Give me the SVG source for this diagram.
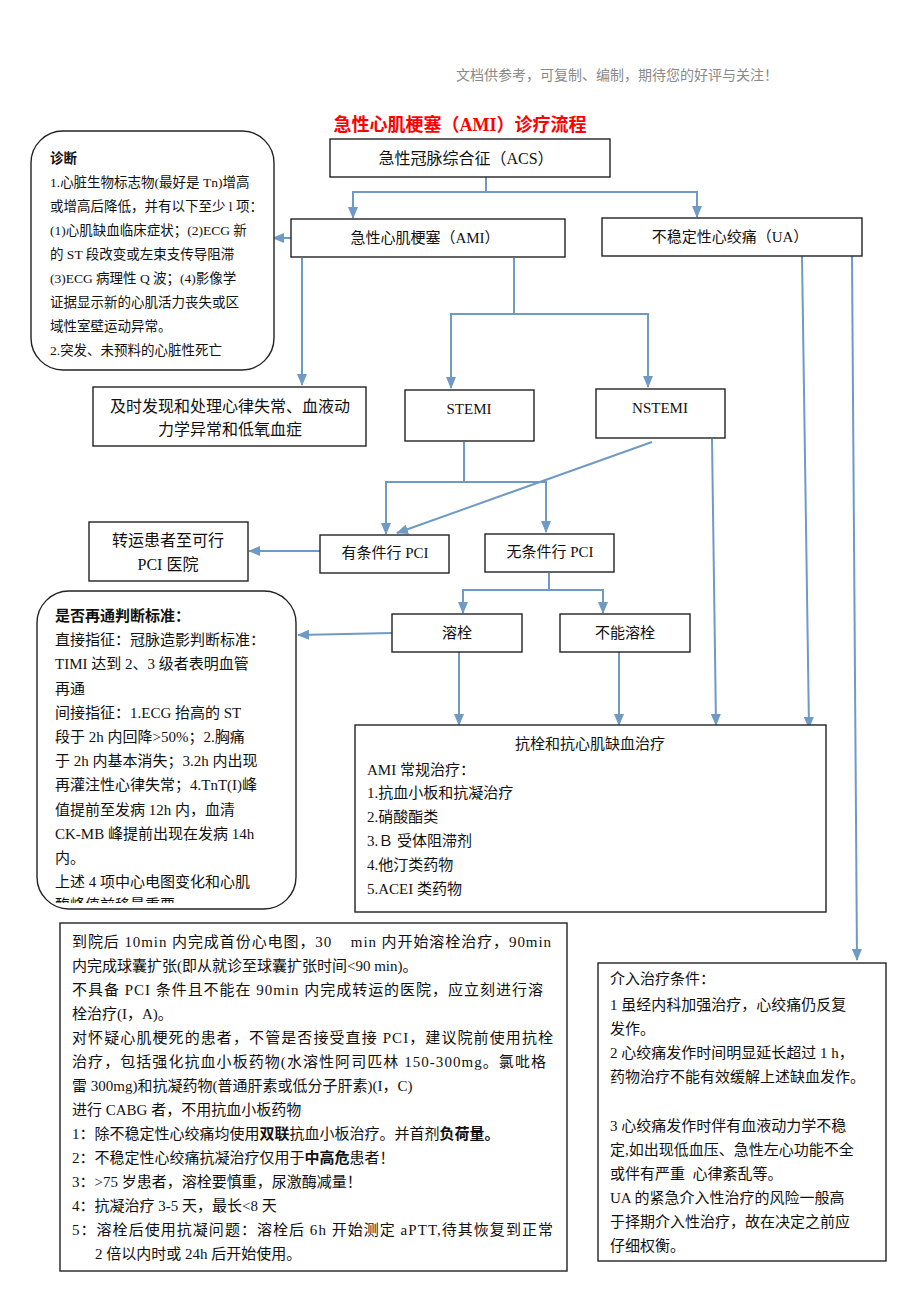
<svg xmlns="http://www.w3.org/2000/svg" width="920" height="1302" viewBox="0 0 920 1302">
<style>
text{font-family:"Liberation Serif","Noto Sans CJK SC",serif;fill:#111;}
.box{fill:#fff;stroke:#222;stroke-width:1.4;}
.rbox{fill:#fff;stroke:#222;stroke-width:1.4;}
.c{text-anchor:middle;}
.f16{font-size:16px;}
.f15{font-size:15px;}
.f13{font-size:13.5px;}
.conn path{fill:none;stroke:#6f9ac6;stroke-width:2;}
.b{font-weight:bold;font-family:"Noto Sans CJK SC","Liberation Sans",sans-serif;}
</style>
<defs>
<marker id="ah" viewBox="0 0 12 10" refX="11" refY="5" markerWidth="12" markerHeight="10" markerUnits="userSpaceOnUse" orient="auto">
<path d="M0,0 L12,5 L0,10 z" fill="#6f9ac6"/>
</marker>
<clipPath id="recanClip"><rect x="37" y="591" width="259" height="312"/></clipPath>
</defs>
<rect width="920" height="1302" fill="#fff"/>

<text x="617" y="80" class="c" style="font-size:14px;fill:#8a8a8a">文档供参考，可复制、编制，期待您的好评与关注！</text>
<text x="460" y="131" class="c" style="font-size:18px;font-weight:bold;fill:#ff0000">急性心肌梗塞（AMI）诊疗流程</text>

<g class="conn">
<path d="M486,177 V192 H353 V218" marker-end="url(#ah)"/>
<path d="M486,192 H697 V217" marker-end="url(#ah)"/>
<path d="M291,238 H273" marker-end="url(#ah)"/>
<path d="M302,258 V385" marker-end="url(#ah)"/>
<path d="M514,258 V314 H451 V388" marker-end="url(#ah)"/>
<path d="M514,314 H648 V387" marker-end="url(#ah)"/>
<path d="M464,442 V482 H386 V534" marker-end="url(#ah)"/>
<path d="M464,482 H546 V532" marker-end="url(#ah)"/>
<path d="M652,442 L397,533" marker-end="url(#ah)"/>
<path d="M712,439 L716,725" marker-end="url(#ah)"/>
<path d="M320,551 H249" marker-end="url(#ah)"/>
<path d="M549,573 V590 H463 V613" marker-end="url(#ah)"/>
<path d="M549,590 H603 V613" marker-end="url(#ah)"/>
<path d="M392,633 L298,635" marker-end="url(#ah)"/>
<path d="M459,652 V725" marker-end="url(#ah)"/>
<path d="M619,652 V725" marker-end="url(#ah)"/>
<path d="M802,256 L809,728" marker-end="url(#ah)"/>
<path d="M852,256 L857,960" marker-end="url(#ah)"/>
</g>

<g id="acs">
<rect class="box" x="330" y="139" width="280" height="38"/>
<text x="466" y="164" class="c f16">急性冠脉综合征（ACS）</text>
</g>

<g id="diag">
<rect class="rbox" x="31" y="131" width="243" height="239" rx="32" ry="32"/>
<text class="f13" x="50" y="163" font-weight="bold">诊断</text>
<text class="f13" x="50" y="187">1.心脏生物标志物(最好是 Tn)增高</text>
<text class="f13" x="50" y="211">或增高后降低，并有以下至少 l 项：</text>
<text class="f13" x="50" y="235">(1)心肌缺血临床症状；(2)ECG 新</text>
<text class="f13" x="50" y="259">的 ST 段改变或左束支传导阻滞</text>
<text class="f13" x="50" y="283">(3)ECG 病理性 Q 波；(4)影像学</text>
<text class="f13" x="50" y="307">证据显示新的心肌活力丧失或区</text>
<text class="f13" x="50" y="331">域性室壁运动异常。</text>
<text class="f13" x="50" y="355">2.突发、未预料的心脏性死亡</text>
</g>

<g id="ami">
<rect class="box" x="291" y="219" width="274" height="38"/>
<text x="425" y="243" class="c f15">急性心肌梗塞（AMI）</text>
</g>

<g id="ua">
<rect class="box" x="602" y="218" width="260" height="38"/>
<text x="730" y="242" class="c f15">不稳定性心绞痛（UA）</text>
</g>

<g id="timely">
<rect class="box" x="93" y="387" width="273" height="59"/>
<text x="230" y="412" class="c f16">及时发现和处理心律失常、血液动</text>
<text x="230" y="435" class="c f16">力学异常和低氧血症</text>
</g>

<g id="stemi">
<rect class="box" x="405" y="390" width="129" height="51"/>
<text x="469" y="414" class="c f15">STEMI</text>
</g>

<g id="nstemi">
<rect class="box" x="596" y="389" width="129" height="49"/>
<text x="660" y="413" class="c f15">NSTEMI</text>
</g>

<g id="transfer">
<rect class="box" x="89" y="522" width="159" height="59"/>
<text x="168" y="546" class="c f16">转运患者至可行</text>
<text x="168" y="570" class="c f16">PCI 医院</text>
</g>

<g id="pci-yes">
<rect class="box" x="320" y="535" width="129" height="38"/>
<text x="385" y="558" class="c f15">有条件行 PCI</text>
</g>

<g id="pci-no">
<rect class="box" x="485" y="534" width="129" height="38"/>
<text x="550" y="557" class="c f15">无条件行 PCI</text>
</g>

<g id="lysis">
<rect class="box" x="392" y="614" width="130" height="38"/>
<text x="457" y="638" class="c f15">溶栓</text>
</g>

<g id="nolysis">
<rect class="box" x="560" y="614" width="130" height="38"/>
<text x="625" y="638" class="c f15">不能溶栓</text>
</g>

<g id="recan">
<rect class="rbox" x="37" y="591" width="259" height="318" rx="32" ry="32"/>
<g clip-path="url(#recanClip)">
<text class="f15" x="55" y="621" font-weight="bold">是否再通判断标准：</text>
<text class="f15" x="55" y="645">直接指征：冠脉造影判断标准：</text>
<text class="f15" x="55" y="669">TIMI 达到 2、3 级者表明血管</text>
<text class="f15" x="55" y="694">再通</text>
<text class="f15" x="55" y="718">间接指征：1.ECG 抬高的 ST</text>
<text class="f15" x="55" y="742">段于 2h 内回降&gt;50%；2.胸痛</text>
<text class="f15" x="55" y="766">于 2h 内基本消失；3.2h 内出现</text>
<text class="f15" x="55" y="790">再灌注性心律失常；4.TnT(I)峰</text>
<text class="f15" x="55" y="815">值提前至发病 12h 内，血清</text>
<text class="f15" x="55" y="839">CK-MB 峰提前出现在发病 14h</text>
<text class="f15" x="55" y="863">内。</text>
<text class="f15" x="55" y="887">上述 4 项中心电图变化和心肌</text>
<text class="f15" x="55" y="910">酶峰值前移最重要</text>
</g>
</g>

<g id="therapy">
<rect class="box" x="355" y="725" width="471" height="187"/>
<text x="590" y="749" class="c f15">抗栓和抗心肌缺血治疗</text>
<text x="367" y="775" class="f15">AMI 常规治疗：</text>
<text x="367" y="798" class="f15">1.抗血小板和抗凝治疗</text>
<text x="367" y="822" class="f15">2.硝酸酯类</text>
<text x="367" y="846" class="f15">3.Ｂ 受体阻滞剂</text>
<text x="367" y="870" class="f15">4.他汀类药物</text>
<text x="367" y="894" class="f15">5.ACEI 类药物</text>
</g>

<g id="notes">
<rect class="box" x="60" y="923" width="507" height="348"/>
<text class="f15" x="72" y="947" textLength="479" lengthAdjust="spacing" xml:space="preserve">到院后 10min 内完成首份心电图，30    min 内开始溶栓治疗，90min</text>
<text class="f15" x="72" y="971">内完成球囊扩张(即从就诊至球囊扩张时间&lt;90 min)。</text>
<text class="f15" x="72" y="995" textLength="471" lengthAdjust="spacing">不具备 PCI 条件且不能在 90min 内完成转运的医院，应立刻进行溶</text>
<text class="f15" x="72" y="1019">栓治疗(I，A)。</text>
<text class="f15" x="72" y="1043" textLength="481" lengthAdjust="spacing">对怀疑心肌梗死的患者，不管是否接受直接 PCI，建议院前使用抗栓</text>
<text class="f15" x="72" y="1067" textLength="474" lengthAdjust="spacing">治疗，包括强化抗血小板药物(水溶性阿司匹林 150-300mg。氯吡格</text>
<text class="f15" x="72" y="1091">雷 300mg)和抗凝药物(普通肝素或低分子肝素)(I，C)</text>
<text class="f15" x="72" y="1115">进行 CABG 者，不用抗血小板药物</text>
<text class="f15" x="72" y="1139">1：除不稳定性心绞痛均使用<tspan class="b">双联</tspan>抗血小板治疗。并首剂<tspan class="b">负荷量。</tspan></text>
<text class="f15" x="72" y="1163">2：不稳定性心绞痛抗凝治疗仅用于<tspan class="b">中高危</tspan>患者！</text>
<text class="f15" x="72" y="1187">3：&gt;75 岁患者，溶栓要慎重，尿激酶减量！</text>
<text class="f15" x="72" y="1211">4：抗凝治疗 3-5 天，最长&lt;8 天</text>
<text class="f15" x="72" y="1235" textLength="481" lengthAdjust="spacing">5：溶栓后使用抗凝问题：溶栓后 6h 开始测定 aPTT,待其恢复到正常</text>
<text class="f15" x="95" y="1259">2 倍以内时或 24h 后开始使用。</text>
</g>

<g id="interv">
<rect class="box" x="598" y="963" width="288" height="298"/>
<text class="f15" x="610" y="984">介入治疗条件：</text>
<text class="f15" x="610" y="1010">1 虽经内科加强治疗，心绞痛仍反复</text>
<text class="f15" x="610" y="1034">发作。</text>
<text class="f15" x="610" y="1058">2 心绞痛发作时间明显延长超过 1 h，</text>
<text class="f15" x="610" y="1082">药物治疗不能有效缓解上述缺血发作。</text>
<text class="f15" x="610" y="1131">3 心绞痛发作时伴有血液动力学不稳</text>
<text class="f15" x="610" y="1155">定,如出现低血压、急性左心功能不全</text>
<text class="f15" x="610" y="1179" xml:space="preserve">或伴有严重  心律紊乱等。</text>
<text class="f15" x="610" y="1203">UA 的紧急介入性治疗的风险一般高</text>
<text class="f15" x="610" y="1227">于择期介入性治疗，故在决定之前应</text>
<text class="f15" x="610" y="1251">仔细权衡。</text>
</g>
</svg>
